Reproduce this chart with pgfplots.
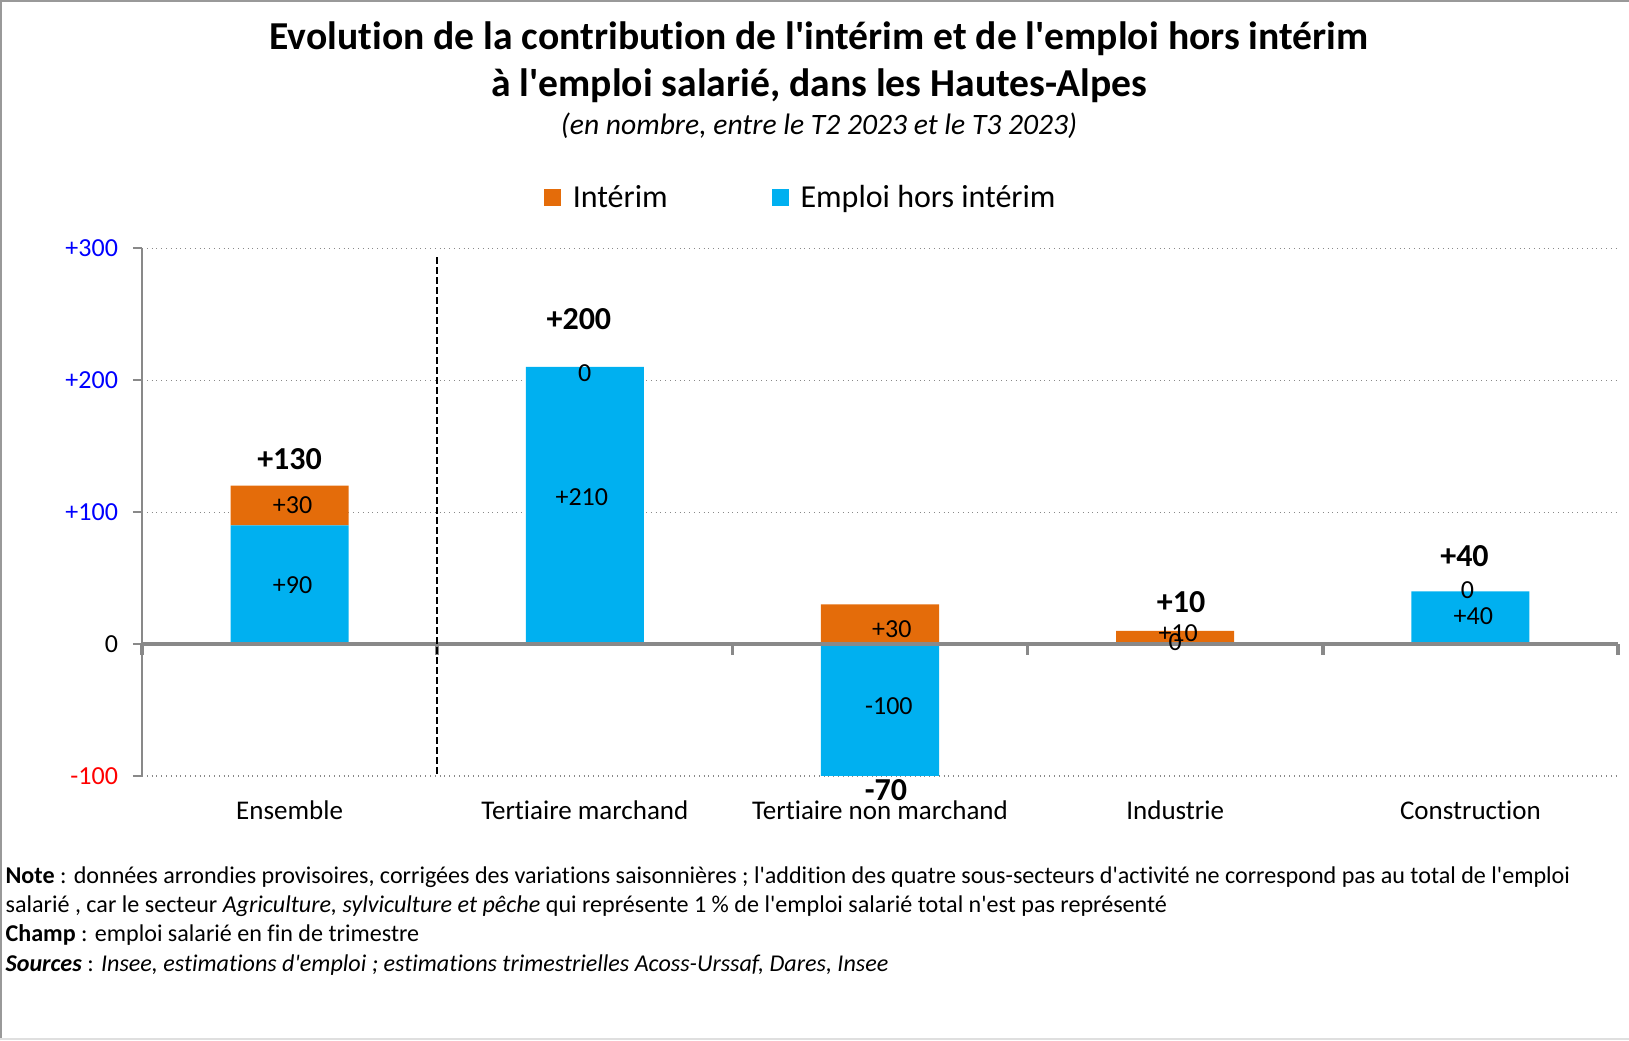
\documentclass[border=0pt]{standalone}
\usepackage{fontspec}
\setmainfont{Carlito}[Ligatures={TeXOff,CommonOff}]
\usepackage{pgfplots}
\pgfplotsset{compat=1.18}
\definecolor{cOrange}{HTML}{E46C0A}
\definecolor{cBlue}{HTML}{00B0F0}
\definecolor{axgray}{HTML}{898989}
\begin{document}
\begin{tikzpicture}[x=1pt,y=1pt]
\path[use as bounding box] (0,0) rectangle (814.5,520);
\draw[gray!80, line width=1pt] (0.5,0) -- (0.5,519.5) -- (814.5,519.5);
\draw[gray!25, line width=1pt] (0,0.5) -- (814.5,0.5);

\node[anchor=base, font=\fontsize{19.8}{24}\selectfont\bfseries] at (409.5,495) {Evolution de la contribution de l'intérim et de l'emploi hors intérim};
\node[anchor=base, font=\fontsize{19.8}{24}\selectfont\bfseries] at (409.5,471.7) {à l'emploi salarié, dans les Hautes-Alpes};
\node[anchor=base, font=\fontsize{14.8}{17}\selectfont\itshape] at (409.5,452.5) {(en nombre, entre le T2 2023 et le T3 2023)};

\begin{axis}[
  at={(71pt,132pt)}, anchor=south west, scale only axis,
  width=738pt, height=263.9pt,
  xmin=-0.5, xmax=4.5, ymin=-100, ymax=300,
  ybar stacked, bar width=0.4,
  axis x line*=bottom, axis y line*=left,
  x axis line style={draw=none},
  y axis line style={draw=axgray, line width=0.8pt},
  xtick={0,1,2,3,4},
  xticklabels={Ensemble, Tertiaire marchand, Tertiaire non marchand, Industrie, Construction},
  x tick style={draw=none},
  major tick length=4.5pt, tick align=outside,
  ytick={-100,0,100,200,300},
  yticklabels={\textcolor{red}{-100}, 0, \textcolor{blue}{+100}, \textcolor{blue}{+200}, \textcolor{blue}{+300}},
  y tick style={draw=axgray, line width=0.8pt},
  ymajorgrids, grid style={axgray, dotted, line width=0.6pt},
  tick label style={font=\fontsize{13}{15}\selectfont},
  xticklabel style={yshift=-4.4pt, font=\fontsize{13.5}{16}\selectfont},
  yticklabel style={xshift=-4pt},
  legend columns=2,
  legend style={draw=none, fill=none, at={(0.447,1.096)}, anchor=center,
    font=\fontsize{16}{19}\selectfont,
    /tikz/every odd column/.append style={column sep=4pt},
    /tikz/every even column/.append style={column sep=50pt}},
]
\addplot[fill=cBlue, draw=none, forget plot] coordinates {(0,90) (1,210) (2,0) (3,0) (4,40)};
\addplot[fill=cOrange, draw=none, forget plot] coordinates {(0,30) (1,0) (2,30) (3,10) (4,0)};
\addlegendimage{legend image code/.code={\fill[cOrange] (0pt,-4pt) rectangle (8pt,4pt);}}
\addlegendentry{Intérim}
\addlegendimage{legend image code/.code={\fill[cBlue] (0pt,-4pt) rectangle (8pt,4pt);}}
\addlegendentry{Emploi hors intérim}
\end{axis}

\begin{axis}[
  at={(71pt,132pt)}, anchor=south west, scale only axis,
  width=738pt, height=263.9pt,
  xmin=-0.5, xmax=4.5, ymin=-100, ymax=300,
  hide axis, clip=false,
]
\addplot[ybar, bar width=0.4, bar shift=0pt, fill=cBlue, draw=none] coordinates {(0,0) (1,0) (2,-100) (3,0) (4,0)};
\draw[axgray, line width=2.3pt] (axis cs:-0.5,0) -- (axis cs:4.5,0);
\draw[axgray, line width=1.8pt] (axis cs:-0.5,0) -- ([yshift=-5.5pt]axis cs:-0.5,0);
\draw[axgray, line width=1.8pt] (axis cs:0.5,0) -- ([yshift=-5.5pt]axis cs:0.5,0);
\draw[axgray, line width=1.8pt] (axis cs:1.5,0) -- ([yshift=-5.5pt]axis cs:1.5,0);
\draw[axgray, line width=1.8pt] (axis cs:2.5,0) -- ([yshift=-5.5pt]axis cs:2.5,0);
\draw[axgray, line width=1.8pt] (axis cs:3.5,0) -- ([yshift=-5.5pt]axis cs:3.5,0);
\draw[axgray, line width=1.8pt] (axis cs:4.5,0) -- ([yshift=-5.5pt]axis cs:4.5,0);
\draw[black, line width=1pt, dash pattern=on 3.5pt off 1.5pt] (axis cs:0.5,293) -- (axis cs:0.5,-100);
\addplot[draw=none, mark=none, nodes near coords, point meta=explicit symbolic,
  every node near coord/.append style={anchor=center, black, font=\fontsize{13}{15}\selectfont}]
  table[meta=lab] {
x y lab
0.01 45 +90
0.01 105 +30
0.99 111 +210
1 205.5 0
2.04 11 +30
2.03 -47 -100
3.01 8 +10
3 1.6 0
4.01 21 +40
3.99 41 0
};
\addplot[draw=none, mark=none, nodes near coords, point meta=explicit symbolic,
  every node near coord/.append style={anchor=center, black, font=\fontsize{16}{19}\selectfont\bfseries}]
  table[meta=lab] {
x y lab
0 140 +130
0.98 246.5 +200
2.02 -111 -70
3.02 31.5 +10
3.98 67 +40
};
\end{axis}

\node[anchor=base west, font=\fontsize{12.05}{14}\selectfont, inner sep=0pt] at (2.6,78) {\textbf{Note} : données arrondies provisoires, corrigées des variations saisonnières ; l'addition des quatre sous-secteurs d'activité ne correspond pas au total de l'emploi};
\node[anchor=base west, font=\fontsize{12.05}{14}\selectfont, inner sep=0pt] at (2.6,63.5) {salarié , car le secteur \textit{Agriculture, sylviculture et pêche} qui représente 1 \% de l'emploi salarié total n'est pas représenté};
\node[anchor=base west, font=\fontsize{12.05}{14}\selectfont, inner sep=0pt] at (2.6,49) {\textbf{Champ} : emploi salarié en fin de trimestre};
\node[anchor=base west, font=\fontsize{12.05}{14}\selectfont, inner sep=0pt] at (2.6,34.5) {\textbf{\textit{Sources}} : \textit{Insee, estimations d'emploi ; estimations trimestrielles Acoss-Urssaf, Dares, Insee}};
\end{tikzpicture}
\end{document}
